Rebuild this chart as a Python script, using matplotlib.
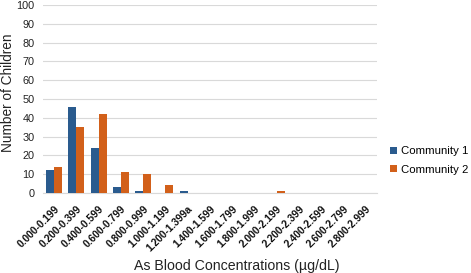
import matplotlib
matplotlib.use("Agg")
import matplotlib.pyplot as plt
import numpy as np

categories = ["0.000-0.199", "0.200-0.399", "0.400-0.599", "0.600-0.799", "0.800-0.999",
              "1.000-1.199", "1.200-1.399a", "1.400-1.599", "1.600-1.799", "1.800-1.999",
              "2.000-2.199", "2.200-2.399", "2.400-2.599", "2.600-2.799", "2.800-2.999"]
community1 = [12, 46, 24, 3, 1, 0, 1, 0, 0, 0, 0, 0, 0, 0, 0]
community2 = [14, 35, 42, 11, 10, 4, 0, 0, 0, 0, 1, 0, 0, 0, 0]
yticks = list(range(0, 101, 10))

plt.rcParams['font.family'] = ['Liberation Sans', 'DejaVu Sans']
W, H = 471, 273
fig = plt.figure(figsize=(W/100, H/100), dpi=100)
ax = fig.add_axes([43/W, 1 - 193/H, (377-43)/W, (193-5)/H])

x = np.arange(len(categories))
w = 0.36
ax.bar(x - w/2, community1, w, color="#2A5B8E", label="Community 1", zorder=3)
ax.bar(x + w/2, community2, w, color="#D2601A", label="Community 2", zorder=3)

ax.set_xlim(-0.5, len(categories) - 0.5)
ax.set_ylim(0, 100)
ax.set_yticks(yticks)
ax.yaxis.grid(True, color="#D9D9D9", linewidth=0.8, zorder=0)
for s in ["top", "right", "left"]:
    ax.spines[s].set_visible(False)
ax.spines["bottom"].set_color("#D9D9D9")
ax.tick_params(axis="y", length=0, labelsize=7.8, colors="#222222", pad=6)
ax.tick_params(axis="x", length=0, labelsize=7.4, colors="#111111", pad=8)
ax.set_xticks(x)
ax.set_xticklabels(categories, rotation=45, ha="right", rotation_mode="anchor",
                   fontsize=7.4, fontweight="bold")

fig.text(8/W, 1 - 93/H, "Number of Children", rotation=90, ha="center", va="center",
         fontsize=9.8, color="#222222")
fig.text(237/W, 1 - 266/H, "As Blood Concentrations (\u00b5g/dL)", ha="center", va="center",
         fontsize=10.2, color="#222222")

leg = ax.legend(loc="center left", bbox_to_anchor=(390/W, 1 - 160.5/H), bbox_transform=fig.transFigure,
                frameon=False, fontsize=8.2, borderaxespad=0, borderpad=0,
                handlelength=0.6, handleheight=0.6, handletextpad=0.4, labelspacing=0.75)

fig.savefig("out.png", dpi=100)
